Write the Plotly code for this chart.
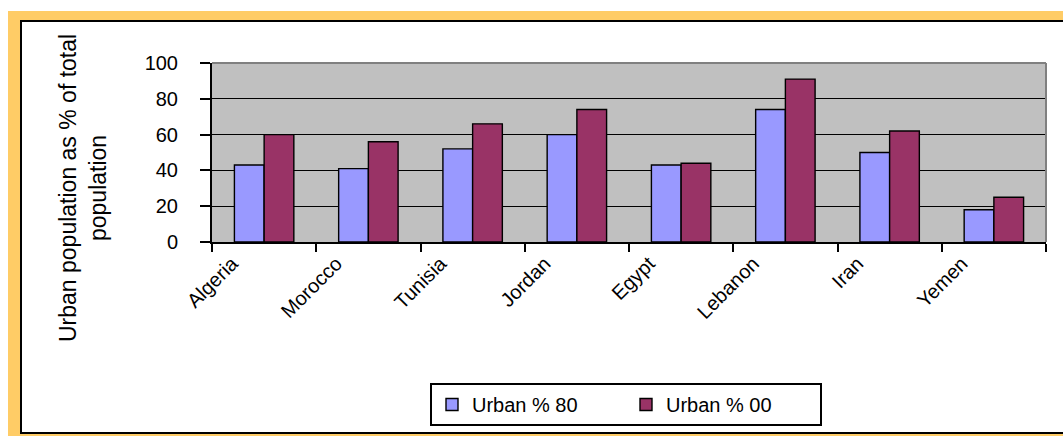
import plotly.graph_objects as go

# ---- data ----
countries = ["Algeria", "Morocco", "Tunisia", "Jordan", "Egypt", "Lebanon", "Iran", "Yemen"]
urban_80 = [43, 41, 52, 60, 43, 74, 50, 18]
urban_00 = [60, 56, 66, 74, 44, 91, 62, 25]
y_ticks = [0, 20, 40, 60, 80, 100]
series_names = ["Urban % 80", "Urban % 00"]

W, H = 1063, 436
L, R, T, B = 212, 17, 63, 194
PW, PH = W - L - R, H - T - B

def px(xp):
    return (xp - L) / PW

def py(yp):
    return (H - B - yp) / PH

FONT = "Liberation Sans, Arial, sans-serif"
ORANGE = "#FFCC66"

fig = go.Figure()
fig.add_trace(go.Bar(x=countries, y=urban_80, name=series_names[0],
                     marker=dict(color="#9999FF", line=dict(color="black", width=1.4))))
fig.add_trace(go.Bar(x=countries, y=urban_00, name=series_names[1],
                     marker=dict(color="#993366", line=dict(color="black", width=1.4))))

shapes = [
    # orange frame
    dict(type="rect", xref="paper", yref="paper", x0=px(8), x1=px(1075), y0=py(20), y1=py(11),
         fillcolor=ORANGE, line=dict(width=0), layer="below"),
    dict(type="rect", xref="paper", yref="paper", x0=px(8), x1=px(20), y0=py(445), y1=py(11),
         fillcolor=ORANGE, line=dict(width=0), layer="below"),
    dict(type="rect", xref="paper", yref="paper", x0=px(8), x1=px(1075), y0=py(445), y1=py(434),
         fillcolor=ORANGE, line=dict(width=0), layer="below"),
    # black inner border
    dict(type="rect", xref="paper", yref="paper", x0=px(21), x1=px(1075), y0=py(433), y1=py(21),
         fillcolor="rgba(0,0,0,0)", line=dict(color="black", width=2), layer="below"),
    # plot area background
    dict(type="rect", xref="x domain", yref="y domain", x0=0, x1=1, y0=0, y1=1,
         fillcolor="#C0C0C0", line=dict(width=0), layer="below"),
    # gray top and right borders
    dict(type="line", xref="x domain", yref="y domain", x0=0, x1=1, y0=1, y1=1,
         line=dict(color="#808080", width=2), layer="above"),
    dict(type="line", xref="x domain", yref="y domain", x0=1, x1=1, y0=0, y1=1,
         line=dict(color="#808080", width=2), layer="above"),
]

fig.update_layout(
    width=W, height=H,
    margin=dict(l=L, r=R, t=T, b=B, autoexpand=False),
    paper_bgcolor="white",
    plot_bgcolor="#C0C0C0",
    barmode="group",
    bargap=0.43,
    bargroupgap=0,
    font=dict(family=FONT, color="black"),
    shapes=shapes,
    showlegend=True,
    legend=dict(
        orientation="h",
        x=px(430), y=py(383), xanchor="left", yanchor="top",
        bgcolor="white", bordercolor="black", borderwidth=2,
        font=dict(family=FONT, size=20, color="black"),
        entrywidth=149, entrywidthmode="pixels",
        itemwidth=30,
    ),
    annotations=[
        dict(text="Urban population as % of total<br>population",
             xref="paper", yref="paper", x=px(83), y=py(188),
             xanchor="center", yanchor="middle", textangle=-90,
             showarrow=False, font=dict(family=FONT, size=23, color="black")),
    ],
)

fig.update_xaxes(
    showline=True, linecolor="black", linewidth=2,
    ticks="outside", ticklen=8, tickwidth=2, tickcolor="black",
    tickson="boundaries", tickangle=-45,
    tickfont=dict(family=FONT, size=20, color="black"),
    ticklabelshift=-32,
    showgrid=False, automargin=False,
)
fig.update_yaxes(
    range=[0, 100], tickvals=y_ticks,
    showline=True, linecolor="black", linewidth=2,
    ticks="outside", ticklen=10, tickwidth=2, tickcolor="black",
    tickfont=dict(family=FONT, size=20, color="black"),
    ticklabelstandoff=18,
    showgrid=True, gridcolor="black", gridwidth=1,
    zeroline=False, automargin=False,
)

fig.write_html("out.html", config={"displayModeBar": False},
               post_script="document.body.style.margin='0';")
